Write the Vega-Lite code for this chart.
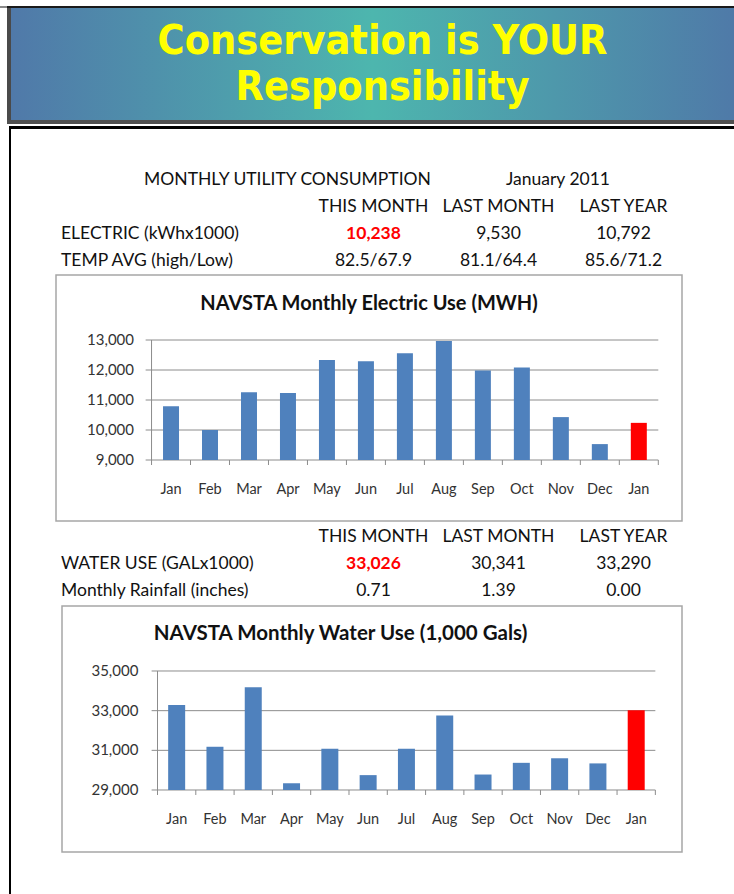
{
  "$schema": "https://vega.github.io/schema/vega-lite/v6.json",
  "padding": 0,
  "background": "white",
  "bounds": "full",
  "align": "none",
  "spacing": 0,
  "config": {
    "view": {"stroke": null},
    "concat": {"spacing": 0},
    "font": "Lato",
    "text": {"font": "Lato"}
  },
  "vconcat": [
    {"width": 734, "height": 6, "data": {"values": []}, "mark": {"type": "text"}, "encoding": {}},
    {"bounds": "full", "align": "none", "spacing": 0, "hconcat": [
      {"width": 7, "height": 2, "data": {"values": []}, "mark": {"type": "text"}, "encoding": {}, "view": {"fill": "#8a8a8a", "stroke": null}},
      {"width": 727, "height": 2, "data": {"values": []}, "mark": {"type": "text"}, "encoding": {}, "view": {"fill": "#1a1a1a", "stroke": null}}
    ]},
    {"bounds": "full", "align": "none", "spacing": 0, "hconcat": [
      {"width": 7, "height": 112, "data": {"values": []}, "mark": {"type": "text"}, "encoding": {}},
      {"width": 4, "height": 112, "data": {"values": []}, "mark": {"type": "text"}, "encoding": {}, "view": {"fill": "#4a4a4a", "stroke": null}},
      {
        "width": 723, "height": 112,
        "view": {"stroke": null, "fill": {"gradient": "linear", "x1": 0, "y1": 0, "x2": 1, "y2": 0, "stops": [{"offset": 0, "color": "#5079A9"}, {"offset": 0.5, "color": "#4DB6AE"}, {"offset": 1, "color": "#4F7AA8"}]}},
        "data": {"values": [{}]},
        "mark": {"type": "text", "font": "DejaVu Sans Condensed, Roboto, sans-serif", "fontWeight": "bold", "fontSize": 41, "color": "#FFFF00", "lineHeight": 46, "dx": 10, "dy": -22},
        "encoding": {"text": {"value": ["Conservation is YOUR", "Responsibility"]}}
      }
    ]},
    {"bounds": "full", "align": "none", "spacing": 0, "hconcat": [
      {"width": 7, "height": 4, "data": {"values": []}, "mark": {"type": "text"}, "encoding": {}},
      {"width": 727, "height": 4, "data": {"values": []}, "mark": {"type": "text"}, "encoding": {}, "view": {"fill": "#505050", "stroke": null}}
    ]},
    {"width": 734, "height": 2, "data": {"values": []}, "mark": {"type": "text"}, "encoding": {}},
    {"bounds": "full", "align": "none", "spacing": 0, "hconcat": [
      {"width": 9, "height": 3, "data": {"values": []}, "mark": {"type": "text"}, "encoding": {}},
      {"width": 725, "height": 3, "data": {"values": []}, "mark": {"type": "text"}, "encoding": {}, "view": {"fill": "#000000", "stroke": null}}
    ]},
    {"bounds": "full", "align": "none", "spacing": 0, "hconcat": [
      {"width": 9, "height": 765, "data": {"values": []}, "mark": {"type": "text"}, "encoding": {}},
      {"width": 2, "height": 765, "data": {"values": []}, "mark": {"type": "text"}, "encoding": {}, "view": {"fill": "#000000", "stroke": null}},
      {"bounds": "full", "align": "none", "spacing": 0, "vconcat": [
        {"width": 723, "height": 37, "data": {"values": []}, "mark": {"type": "text"}, "encoding": {}},
        {"bounds": "full", "align": "none", "spacing": 0, "hconcat": [
          {"width": 131, "height": 27, "data": {"values": []}, "mark": {"type": "text"}, "encoding": {}},
          {"width": 291, "height": 27, "data": {"values": [{"t": "MONTHLY UTILITY CONSUMPTION"}]}, "mark": {"type": "text", "fontSize": 17.5, "color": "#111111"}, "encoding": {"text": {"field": "t"}}},
          {"width": 68, "height": 27, "data": {"values": []}, "mark": {"type": "text"}, "encoding": {}},
          {"width": 114, "height": 27, "data": {"values": [{"t": "January 2011"}]}, "mark": {"type": "text", "fontSize": 17.5, "color": "#111111"}, "encoding": {"text": {"field": "t"}}}
        ]},
        {"bounds": "full", "align": "none", "spacing": 0, "hconcat": [
          {"width": 50, "height": 81, "data": {"values": []}, "mark": {"type": "text"}, "encoding": {}},
          {
            "width": 250, "height": 81,
            "data": {"values": [
              {"row": "r1", "col": "label", "t": "ELECTRIC (kWhx1000)"},
              {"row": "r2", "col": "label", "t": "TEMP AVG (high/Low)"}
            ]},
            "mark": {"type": "text", "align": "left", "fontSize": 17.5, "color": "#111111"},
            "encoding": {
              "x": {"field": "col", "type": "nominal", "scale": {"type": "point", "align": 0}, "axis": null},
              "y": {"field": "row", "type": "nominal", "scale": {"type": "point", "domain": ["cols", "r1", "r2"]}, "axis": null},
              "text": {"field": "t"}
            }
          },
          {
            "width": 375, "height": 81,
            "data": {"values": [
              {"row": "cols", "col": "this", "t": "THIS MONTH", "hi": false},
              {"row": "cols", "col": "last", "t": "LAST MONTH", "hi": false},
              {"row": "cols", "col": "year", "t": "LAST YEAR", "hi": false},
              {"row": "r1", "col": "this", "t": "10,238", "hi": true},
              {"row": "r1", "col": "last", "t": "9,530", "hi": false},
              {"row": "r1", "col": "year", "t": "10,792", "hi": false},
              {"row": "r2", "col": "this", "t": "82.5/67.9", "hi": false},
              {"row": "r2", "col": "last", "t": "81.1/64.4", "hi": false},
              {"row": "r2", "col": "year", "t": "85.6/71.2", "hi": false}
            ]},
            "encoding": {
              "x": {"field": "col", "type": "nominal", "scale": {"type": "point", "domain": ["this", "last", "year"]}, "axis": null},
              "y": {"field": "row", "type": "nominal", "scale": {"type": "point", "domain": ["cols", "r1", "r2"]}, "axis": null},
              "text": {"field": "t"}
            },
            "layer": [
              {"transform": [{"filter": "!datum.hi"}], "mark": {"type": "text", "fontSize": 17.5, "color": "#111111"}},
              {"transform": [{"filter": "datum.hi"}], "mark": {"type": "text", "fontSize": 17.5, "fontWeight": "bold", "color": "#FF0000"}}
            ]
          }
        ]},
        {"bounds": "full", "align": "none", "spacing": 0, "hconcat": [
          {"width": 44, "height": 246, "data": {"values": []}, "mark": {"type": "text"}, "encoding": {}},
          {
            "width": 626, "height": 246,
            "view": {"stroke": "#a6a6a6", "strokeWidth": 1.5, "fill": "white"},
            "data": {"values": [
              {"idx": 0, "month": "Jan", "mwh": 10792, "period": "prior"},
              {"idx": 1, "month": "Feb", "mwh": 10000, "period": "prior"},
              {"idx": 2, "month": "Mar", "mwh": 11260, "period": "prior"},
              {"idx": 3, "month": "Apr", "mwh": 11230, "period": "prior"},
              {"idx": 4, "month": "May", "mwh": 12330, "period": "prior"},
              {"idx": 5, "month": "Jun", "mwh": 12290, "period": "prior"},
              {"idx": 6, "month": "Jul", "mwh": 12560, "period": "prior"},
              {"idx": 7, "month": "Aug", "mwh": 12970, "period": "prior"},
              {"idx": 8, "month": "Sep", "mwh": 11980, "period": "prior"},
              {"idx": 9, "month": "Oct", "mwh": 12080, "period": "prior"},
              {"idx": 10, "month": "Nov", "mwh": 10430, "period": "prior"},
              {"idx": 11, "month": "Dec", "mwh": 9530, "period": "prior"},
              {"idx": 12, "month": "Jan", "mwh": 10238, "period": "current"}
            ]},
            "layer": [
              {
                "data": {"values": [{"v": 9000}, {"v": 10000}, {"v": 11000}, {"v": 12000}, {"v": 13000}]},
                "layer": [
                  {
                    "mark": {"type": "rule", "color": "#8c8c8c", "strokeWidth": 1},
                    "encoding": {
                      "y": {"field": "v", "type": "quantitative", "scale": {"domain": [6966.67, 15166.67], "nice": false, "zero": false}, "axis": null},
                      "x": {"datum": -0.6515, "type": "quantitative", "scale": {"domain": [-2.8224, 12.9796], "nice": false, "zero": false}, "axis": null},
                      "x2": {"datum": 12.5}
                    }
                  },
                  {
                    "mark": {"type": "text", "align": "right", "fontSize": 15, "color": "#333333"},
                    "encoding": {
                      "y": {"field": "v", "type": "quantitative", "scale": {"domain": [6966.67, 15166.67], "nice": false, "zero": false}, "axis": null},
                      "x": {"datum": -0.95, "type": "quantitative", "scale": {"domain": [-2.8224, 12.9796], "nice": false, "zero": false}, "axis": null},
                      "text": {"field": "v", "type": "quantitative", "format": ","}
                    }
                  }
                ]
              },
              {
                "data": {"values": [{"b": -0.5}, {"b": 0.5}, {"b": 1.5}, {"b": 2.5}, {"b": 3.5}, {"b": 4.5}, {"b": 5.5}, {"b": 6.5}, {"b": 7.5}, {"b": 8.5}, {"b": 9.5}, {"b": 10.5}, {"b": 11.5}, {"b": 12.5}]},
                "mark": {"type": "rule", "color": "#8c8c8c", "strokeWidth": 1},
                "encoding": {
                  "x": {"field": "b", "type": "quantitative", "scale": {"domain": [-2.8224, 12.9796], "nice": false, "zero": false}, "axis": null},
                  "y": {"datum": 9000, "type": "quantitative", "scale": {"domain": [6966.67, 15166.67], "nice": false, "zero": false}, "axis": null},
                  "y2": {"datum": 8833.3}
                }
              },
              {
                "data": {"values": [{}]},
                "mark": {"type": "rule", "color": "#8c8c8c", "strokeWidth": 1},
                "encoding": {
                  "x": {"datum": -0.5, "type": "quantitative", "scale": {"domain": [-2.8224, 12.9796], "nice": false, "zero": false}, "axis": null},
                  "y": {"datum": 9000, "type": "quantitative", "scale": {"domain": [6966.67, 15166.67], "nice": false, "zero": false}, "axis": null},
                  "y2": {"datum": 13000}
                }
              },
              {
                "mark": {"type": "bar", "width": 16},
                "encoding": {
                  "x": {"field": "idx", "type": "quantitative", "scale": {"domain": [-2.8224, 12.9796], "nice": false, "zero": false}, "axis": null},
                  "y": {"field": "mwh", "type": "quantitative", "scale": {"domain": [6966.67, 15166.67], "nice": false, "zero": false}, "axis": null},
                  "y2": {"datum": 9000},
                  "color": {"field": "period", "type": "nominal", "scale": {"domain": ["prior", "current"], "range": ["#4F81BD", "#FF0000"]}, "legend": null}
                }
              },
              {
                "mark": {"type": "text", "fontSize": 14.5, "color": "#333333"},
                "encoding": {
                  "x": {"field": "idx", "type": "quantitative", "scale": {"domain": [-2.8224, 12.9796], "nice": false, "zero": false}, "axis": null},
                  "y": {"datum": 8000, "type": "quantitative", "scale": {"domain": [6966.67, 15166.67], "nice": false, "zero": false}, "axis": null},
                  "text": {"field": "month"}
                }
              },
              {
                "data": {"values": [{"t": "NAVSTA Monthly Electric Use (MWH)"}]},
                "mark": {"type": "text", "fontSize": 20, "fontWeight": "bold", "color": "#111111"},
                "encoding": {
                  "y": {"datum": 14200, "type": "quantitative", "scale": {"domain": [6966.67, 15166.67], "nice": false, "zero": false}, "axis": null},
                  "text": {"field": "t"}
                }
              }
            ]
          }
        ]},
        {"width": 723, "height": 1, "data": {"values": []}, "mark": {"type": "text"}, "encoding": {}},
        {"bounds": "full", "align": "none", "spacing": 0, "hconcat": [
          {"width": 50, "height": 82, "data": {"values": []}, "mark": {"type": "text"}, "encoding": {}},
          {
            "width": 250, "height": 82,
            "data": {"values": [
              {"row": "r1", "col": "label", "t": "WATER USE (GALx1000)"},
              {"row": "r2", "col": "label", "t": "Monthly Rainfall (inches)"}
            ]},
            "mark": {"type": "text", "align": "left", "fontSize": 17.5, "color": "#111111"},
            "encoding": {
              "x": {"field": "col", "type": "nominal", "scale": {"type": "point", "align": 0}, "axis": null},
              "y": {"field": "row", "type": "nominal", "scale": {"type": "point", "domain": ["cols", "r1", "r2"]}, "axis": null},
              "text": {"field": "t"}
            }
          },
          {
            "width": 375, "height": 82,
            "data": {"values": [
              {"row": "cols", "col": "this", "t": "THIS MONTH", "hi": false},
              {"row": "cols", "col": "last", "t": "LAST MONTH", "hi": false},
              {"row": "cols", "col": "year", "t": "LAST YEAR", "hi": false},
              {"row": "r1", "col": "this", "t": "33,026", "hi": true},
              {"row": "r1", "col": "last", "t": "30,341", "hi": false},
              {"row": "r1", "col": "year", "t": "33,290", "hi": false},
              {"row": "r2", "col": "this", "t": "0.71", "hi": false},
              {"row": "r2", "col": "last", "t": "1.39", "hi": false},
              {"row": "r2", "col": "year", "t": "0.00", "hi": false}
            ]},
            "encoding": {
              "x": {"field": "col", "type": "nominal", "scale": {"type": "point", "domain": ["this", "last", "year"]}, "axis": null},
              "y": {"field": "row", "type": "nominal", "scale": {"type": "point", "domain": ["cols", "r1", "r2"]}, "axis": null},
              "text": {"field": "t"}
            },
            "layer": [
              {"transform": [{"filter": "!datum.hi"}], "mark": {"type": "text", "fontSize": 17.5, "color": "#111111"}},
              {"transform": [{"filter": "datum.hi"}], "mark": {"type": "text", "fontSize": 17.5, "fontWeight": "bold", "color": "#FF0000"}}
            ]
          }
        ]},
        {"bounds": "full", "align": "none", "spacing": 0, "hconcat": [
          {"width": 50, "height": 246, "data": {"values": []}, "mark": {"type": "text"}, "encoding": {}},
          {
            "width": 620, "height": 246,
            "view": {"stroke": "#a6a6a6", "strokeWidth": 1.5, "fill": "white"},
            "data": {"values": [
              {"idx": 0, "month": "Jan", "kgal": 33290, "period": "prior"},
              {"idx": 1, "month": "Feb", "kgal": 31180, "period": "prior"},
              {"idx": 2, "month": "Mar", "kgal": 34180, "period": "prior"},
              {"idx": 3, "month": "Apr", "kgal": 29340, "period": "prior"},
              {"idx": 4, "month": "May", "kgal": 31080, "period": "prior"},
              {"idx": 5, "month": "Jun", "kgal": 29750, "period": "prior"},
              {"idx": 6, "month": "Jul", "kgal": 31080, "period": "prior"},
              {"idx": 7, "month": "Aug", "kgal": 32760, "period": "prior"},
              {"idx": 8, "month": "Sep", "kgal": 29780, "period": "prior"},
              {"idx": 9, "month": "Oct", "kgal": 30370, "period": "prior"},
              {"idx": 10, "month": "Nov", "kgal": 30600, "period": "prior"},
              {"idx": 11, "month": "Dec", "kgal": 30341, "period": "prior"},
              {"idx": 12, "month": "Jan", "kgal": 33026, "period": "current"}
            ]},
            "layer": [
              {
                "data": {"values": [{"v": 29000}, {"v": 31000}, {"v": 33000}, {"v": 35000}]},
                "layer": [
                  {
                    "mark": {"type": "rule", "color": "#8c8c8c", "strokeWidth": 1},
                    "encoding": {
                      "y": {"field": "v", "type": "quantitative", "scale": {"domain": [25873.9, 38277.3], "nice": false, "zero": false}, "axis": null},
                      "x": {"datum": -0.654, "type": "quantitative", "scale": {"domain": [-2.8636, 13.0652], "nice": false, "zero": false}, "axis": null},
                      "x2": {"datum": 12.5}
                    }
                  },
                  {
                    "mark": {"type": "text", "align": "right", "fontSize": 15, "color": "#333333"},
                    "encoding": {
                      "y": {"field": "v", "type": "quantitative", "scale": {"domain": [25873.9, 38277.3], "nice": false, "zero": false}, "axis": null},
                      "x": {"datum": -1.0, "type": "quantitative", "scale": {"domain": [-2.8636, 13.0652], "nice": false, "zero": false}, "axis": null},
                      "text": {"field": "v", "type": "quantitative", "format": ","}
                    }
                  }
                ]
              },
              {
                "data": {"values": [{"b": -0.5}, {"b": 0.5}, {"b": 1.5}, {"b": 2.5}, {"b": 3.5}, {"b": 4.5}, {"b": 5.5}, {"b": 6.5}, {"b": 7.5}, {"b": 8.5}, {"b": 9.5}, {"b": 10.5}, {"b": 11.5}, {"b": 12.5}]},
                "mark": {"type": "rule", "color": "#8c8c8c", "strokeWidth": 1},
                "encoding": {
                  "x": {"field": "b", "type": "quantitative", "scale": {"domain": [-2.8636, 13.0652], "nice": false, "zero": false}, "axis": null},
                  "y": {"datum": 29000, "type": "quantitative", "scale": {"domain": [25873.9, 38277.3], "nice": false, "zero": false}, "axis": null},
                  "y2": {"datum": 28748}
                }
              },
              {
                "data": {"values": [{}]},
                "mark": {"type": "rule", "color": "#8c8c8c", "strokeWidth": 1},
                "encoding": {
                  "x": {"datum": -0.5, "type": "quantitative", "scale": {"domain": [-2.8636, 13.0652], "nice": false, "zero": false}, "axis": null},
                  "y": {"datum": 29000, "type": "quantitative", "scale": {"domain": [25873.9, 38277.3], "nice": false, "zero": false}, "axis": null},
                  "y2": {"datum": 35000}
                }
              },
              {
                "mark": {"type": "bar", "width": 17},
                "encoding": {
                  "x": {"field": "idx", "type": "quantitative", "scale": {"domain": [-2.8636, 13.0652], "nice": false, "zero": false}, "axis": null},
                  "y": {"field": "kgal", "type": "quantitative", "scale": {"domain": [25873.9, 38277.3], "nice": false, "zero": false}, "axis": null},
                  "y2": {"datum": 29000},
                  "color": {"field": "period", "type": "nominal", "scale": {"domain": ["prior", "current"], "range": ["#4F81BD", "#FF0000"]}, "legend": null}
                }
              },
              {
                "mark": {"type": "text", "fontSize": 14.5, "color": "#333333"},
                "encoding": {
                  "x": {"field": "idx", "type": "quantitative", "scale": {"domain": [-2.8636, 13.0652], "nice": false, "zero": false}, "axis": null},
                  "y": {"datum": 27487, "type": "quantitative", "scale": {"domain": [25873.9, 38277.3], "nice": false, "zero": false}, "axis": null},
                  "text": {"field": "month"}
                }
              },
              {
                "data": {"values": [{"t": "NAVSTA Monthly Water Use (1,000 Gals)"}]},
                "mark": {"type": "text", "fontSize": 20.5, "fontWeight": "bold", "color": "#111111"},
                "encoding": {
                  "x": {"datum": 4.279, "type": "quantitative", "scale": {"domain": [-2.8636, 13.0652], "nice": false, "zero": false}, "axis": null},
                  "y": {"datum": 36865, "type": "quantitative", "scale": {"domain": [25873.9, 38277.3], "nice": false, "zero": false}, "axis": null},
                  "text": {"field": "t"}
                }
              }
            ]
          }
        ]},
        {"width": 723, "height": 45, "data": {"values": []}, "mark": {"type": "text"}, "encoding": {}}
      ]}
    ]}
  ]
}
